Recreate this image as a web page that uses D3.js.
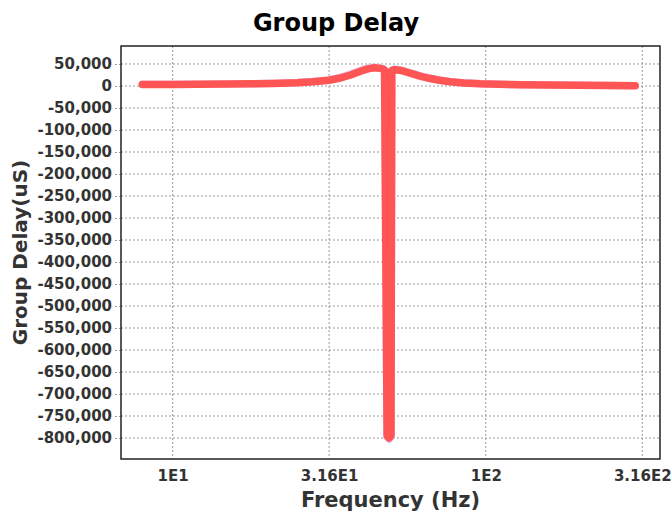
<!DOCTYPE html>
<html>
<head>
<meta charset="utf-8">
<script src="https://cdn.jsdelivr.net/npm/d3@7"></script>
<style>
  body { margin: 0; background: #fff; }
  svg text { font-family: "DejaVu Sans", sans-serif; }
</style>
</head>
<body>
<div id="chart"></div>
<script>
// Data (frequency in Hz, group delay in uS)
const freqs = [8, 10, 12, 15, 18, 21, 25, 28, 31.6, 34, 37, 40, 42, 44, 46, 47, 47.5, 48.4, 49.1, 49.8, 50.1, 51, 53, 55, 58, 62, 66, 71, 77, 85, 96, 110, 130, 160, 200, 250, 300];
const delayMain = [3500, 3600, 3900, 4300, 5000, 5900, 7500, 9500, 13000, 17500, 25000, 34000, 39000, 41500, 40000, 38500, 36000, -795000, -800000, -795000, 35000, 37000, 36000, 33000, 28000, 22000, 17500, 13000, 9500, 7000, 5000, 3800, 2800, 2000, 1500, 1000, 800];
const delayAlt = [3700, 3800, 4100, 4500, 5200, 6200, 7900, 10000, 13800, 18800, 27000, 36000, 41000, 43000, 41500, 39500, 37000, -798000, -803000, -798000, 36500, 38500, 37000, 34000, 29000, 23000, 18200, 13500, 9900, 7300, 5200, 3900, 2900, 2100, 1500, 1000, 800];

const xTicks = [10, 31.6, 100, 316];
const xTickLabels = ["1E1", "3.16E1", "1E2", "3.16E2"];
const yTicks = d3.range(50000, -850000, -50000);

const W = 672, H = 512;
const margin = { top: 46, right: 12, bottom: 53, left: 121 };
const width = W - margin.left - margin.right;
const height = H - margin.top - margin.bottom;
const FONT = "DejaVu Sans";

const svg = d3.select("#chart").append("svg")
  .attr("width", W).attr("height", H);

const g = svg.append("g")
  .attr("transform", `translate(${margin.left},${margin.top})`);

const x = d3.scaleLog().domain([6.84, 360]).range([0, width]);
const y = d3.scaleLinear().domain([-847700, 90900]).range([height, 0]);

// Grid lines
g.append("g").selectAll("line")
  .data(yTicks).enter().append("line")
  .attr("x1", 0).attr("x2", width)
  .attr("y1", d => y(d)).attr("y2", d => y(d))
  .attr("stroke", "#999").attr("stroke-width", 1)
  .attr("stroke-dasharray", "2,2");

g.append("g").selectAll("line")
  .data(xTicks).enter().append("line")
  .attr("x1", d => x(d)).attr("x2", d => x(d))
  .attr("y1", 0).attr("y2", height)
  .attr("stroke", "#999").attr("stroke-width", 1)
  .attr("stroke-dasharray", "2,2");

// Axes
const fmt = d3.format(",");
const yAxis = g.append("g")
  .call(d3.axisLeft(y).tickValues(yTicks).tickSize(6).tickPadding(3)
    .tickFormat(d => fmt(d).replace("\u2212", "-")))
  .attr("font-family", FONT);
yAxis.select(".domain").remove();
yAxis.selectAll("line").attr("stroke", "#999").attr("stroke-dasharray", "2,2");
yAxis.selectAll("text")
  .attr("font-family", FONT)
  .style("font-size", "15px").style("font-weight", "bold").attr("fill", "#333");

const xAxis = g.append("g")
  .attr("transform", `translate(0,${height})`)
  .call(d3.axisBottom(x).tickValues(xTicks).tickSize(0).tickPadding(11)
    .tickFormat((d, i) => xTickLabels[i]))
  .attr("font-family", FONT);
xAxis.select(".domain").remove();
xAxis.selectAll("text")
  .attr("font-family", FONT)
  .style("font-size", "15px").style("font-weight", "bold").attr("fill", "#333");

// Series
const line = d3.line()
  .x(d => x(d[0]))
  .y(d => y(d[1]));

g.append("path")
  .datum(freqs.map((f, i) => [f, delayAlt[i]]))
  .attr("fill", "none")
  .attr("stroke", "#e6c8f2")
  .attr("stroke-width", 7.5)
  .attr("stroke-linejoin", "round")
  .attr("stroke-linecap", "round")
  .attr("d", line);

g.append("path")
  .datum(freqs.map((f, i) => [f, delayMain[i]]))
  .attr("fill", "none")
  .attr("stroke", "#ff5555")
  .attr("stroke-width", 7.5)
  .attr("stroke-linejoin", "round")
  .attr("stroke-linecap", "round")
  .attr("d", line);

// Plot border
g.append("rect")
  .attr("width", width).attr("height", height)
  .attr("fill", "none").attr("stroke", "#222").attr("stroke-width", 1.5);

// Titles
svg.append("text")
  .attr("x", W / 2).attr("y", 31)
  .attr("text-anchor", "middle")
  .attr("font-family", FONT)
  .style("font-size", "24px").style("font-weight", "bold")
  .text("Group Delay");

svg.append("text")
  .attr("x", margin.left + width / 2).attr("y", 507)
  .attr("text-anchor", "middle")
  .attr("font-family", FONT)
  .style("font-size", "21px").style("font-weight", "bold").attr("fill", "#333")
  .text("Frequency (Hz)");

svg.append("text")
  .attr("transform", `translate(27,${margin.top + height / 2}) rotate(-90)`)
  .attr("text-anchor", "middle")
  .attr("font-family", FONT)
  .style("font-size", "20px").style("font-weight", "bold").attr("fill", "#333")
  .text("Group Delay(uS)");
</script>
</body>
</html>
